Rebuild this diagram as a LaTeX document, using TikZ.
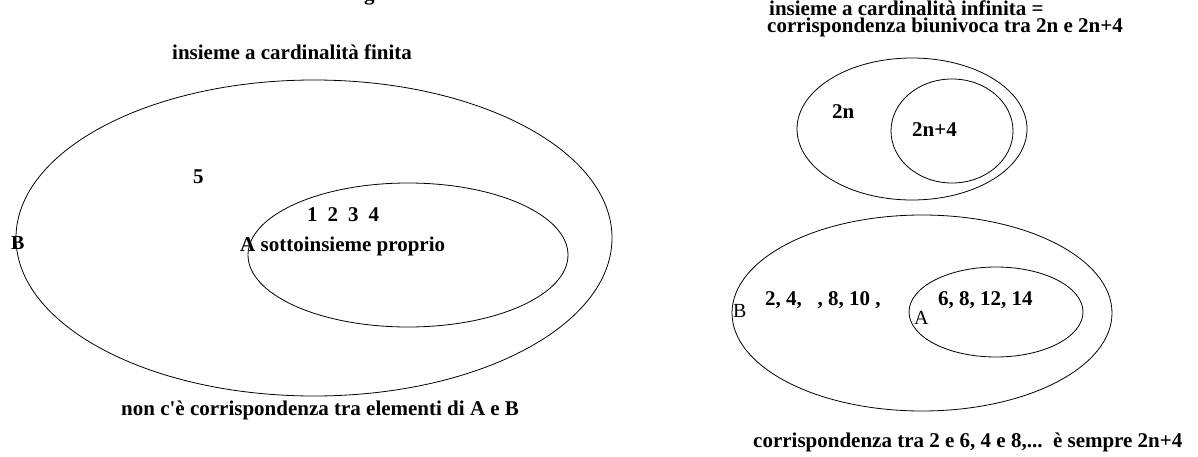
\documentclass[tikz,border=0pt]{standalone}
\usepackage{fontspec}
\setmainfont{Liberation Serif}
\newfontfamily\plainserif{Liberation Serif}
\newcommand{\straightapos}{{\plainserif\bfseries'}}
\begin{document}
\begin{tikzpicture}[x=1pt,y=-1pt,
  setline/.style={draw=black,line width=0.8pt},
  lbl/.style={inner sep=0pt,anchor=base west,font=\fontsize{21}{15}\selectfont\bfseries},
  lblr/.style={inner sep=0pt,anchor=base west,font=\fontsize{20}{15}\selectfont}]
\useasboundingbox (0,0) rectangle (1198,457);
% cut-off fragment at the top
\node[lbl] (frag) at (364,1) {g};
% left diagram
\node[lbl] (titleL) at (172,60) {insieme a cardinalità finita};
\draw[setline] (314,238) ellipse [x radius=298, y radius=158];
\draw[setline] (408,255) ellipse [x radius=160, y radius=72];
\node[lbl] (five) at (193,183) {5};
\node[lbl] (nums) at (307,221) {1\hskip 10pt2\hskip 10pt3\hskip 10pt4};
\node[lbl,font=\fontsize{20}{15}\selectfont\bfseries] (BL) at (11,249) {B};
\node[lbl] (Asub) at (240,251) {A sottoinsieme proprio};
\node[lbl] (noteL) at (121,415) {non c\straightapos è corrispondenza tra elementi di A e B};
% right diagram
\node[lbl] (titleR1) at (769,16) {insieme a cardinalità infinita =};
\node[lbl] (titleR2) at (767,33) {corrispondenza biunivoca tra 2n e 2n+4};
\draw[setline] (912,129) ellipse [x radius=115, y radius=71];
\draw[setline] (952,131) ellipse [x radius=61, y radius=52];
\node[lbl] (twon) at (832,119) {2n};
\node[lbl] (twon4) at (912,137) {2n+4};
\draw[setline] (922,313) ellipse [x radius=190, y radius=98];
\draw[setline] (996,312) ellipse [x radius=87, y radius=45];
\node[lblr] (BR) at (733,317) {B};
\node[lbl] (listB) at (765,305) {2, 4,\ \ \ , 8, 10 ,};
\node[lblr] (AR) at (914,324) {A};
\node[lbl] (listA) at (938,305) {6, 8, 12, 14};
\node[lbl] (noteR) at (753,447) {corrispondenza tra 2 e 6, 4 e 8,...\ \ è sempre 2n+4};
\end{tikzpicture}
\end{document}
